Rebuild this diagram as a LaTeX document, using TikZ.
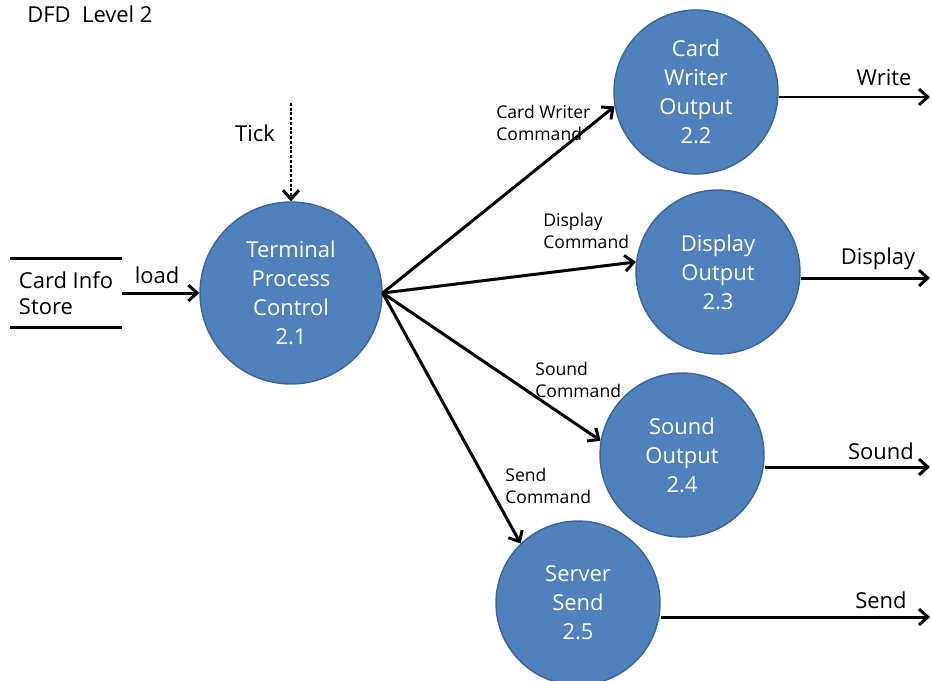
\documentclass[tikz,border=0pt]{standalone}
\usepackage{fontspec}
\setmainfont{Open Sans}
\usepackage{tikz}
\usetikzlibrary{arrows.meta}
\definecolor{procfill}{HTML}{4F81BD}
\definecolor{procline}{HTML}{3A659A}

\begin{document}
\begin{tikzpicture}[x=.02cm,y=-.02cm,
  proc/.style={circle,fill=procfill,draw=procline,line width=.8pt,text=white,align=center,
    minimum size=3.28cm,inner sep=0pt,font=\fontsize{12.5}{16.4}\selectfont},
  flow/.style={-{Straight Barb[length=5pt,width=9pt]},line width=1.7pt},
  cmd/.style={align=left,inner sep=0pt,anchor=west,font=\fontsize{10}{12.5}\selectfont},
  lbl/.style={inner sep=0pt,font=\fontsize{12.5}{15}\selectfont},
  store/.style={align=left,minimum width=2.24cm,minimum height=1.38cm,inner sep=0pt,
    font=\fontsize{12.5}{14.8}\selectfont}]
\useasboundingbox (0,0) rectangle (932,680);
\node[lbl,anchor=west] (title) at (27,14) {DFD\ \ Level 2};

\node[store] (cis) at (66,293) {Card Info\\Store};
\draw[line width=1.7pt] (cis.north west) -- (cis.north east);
\draw[line width=1.7pt] (cis.south west) -- (cis.south east);

\node[proc,minimum size=3.64cm] (tpc) at (291,293) {Terminal\\Process\\Control\\2.1};
\node[proc] (cwo) at (696,92) {Card\\Writer\\Output\\2.2};
\node[proc] (dso) at (718,272) {Display\\Output\\2.3};
\node[proc] (sno) at (682,455) {Sound\\Output\\2.4};
\node[proc] (svs) at (578,603) {Server\\Send\\2.5};

\coordinate (tick) at (291,103);
\draw[flow,densely dotted] (tick) -- (tpc.north);
\node[lbl] (ticklbl) at (255,133) {Tick};
\draw[flow] (cis.east) -- (tpc.west);
\node[lbl] (loadlbl) at (157,275) {load};

\draw[flow] (tpc.east) -- (cwo.190);
\draw[flow] (tpc.east) -- (dso.173);
\draw[flow] (tpc.east) -- (sno.170);
\draw[flow] (tpc.east) -- (svs.134);
\node[cmd] (cwc) at (496,123) {Card Writer\\Command};
\node[cmd] (dsc) at (543,231) {Display\\Command};
\node[cmd] (snc) at (535,380) {Sound\\Command};
\node[cmd] (svc) at (505,486) {Send\\Command};

\coordinate (write) at (930,97);
\coordinate (display) at (930,278);
\coordinate (sound) at (930,467);
\coordinate (send) at (930,617);
\draw[flow] (cwo.east |- write) -- (write);
\draw[flow] (dso.east |- display) -- (display);
\draw[flow] (sno.east |- sound) -- (sound);
\draw[flow] (svs.east |- send) -- (send);
\node[lbl] (writelbl) at (884,78) {Write};
\node[lbl] (displbl) at (878,259) {Display};
\node[lbl] (soundlbl) at (881,451) {Sound};
\node[lbl] (sendlbl) at (881,600) {Send};
\end{tikzpicture}
\end{document}
